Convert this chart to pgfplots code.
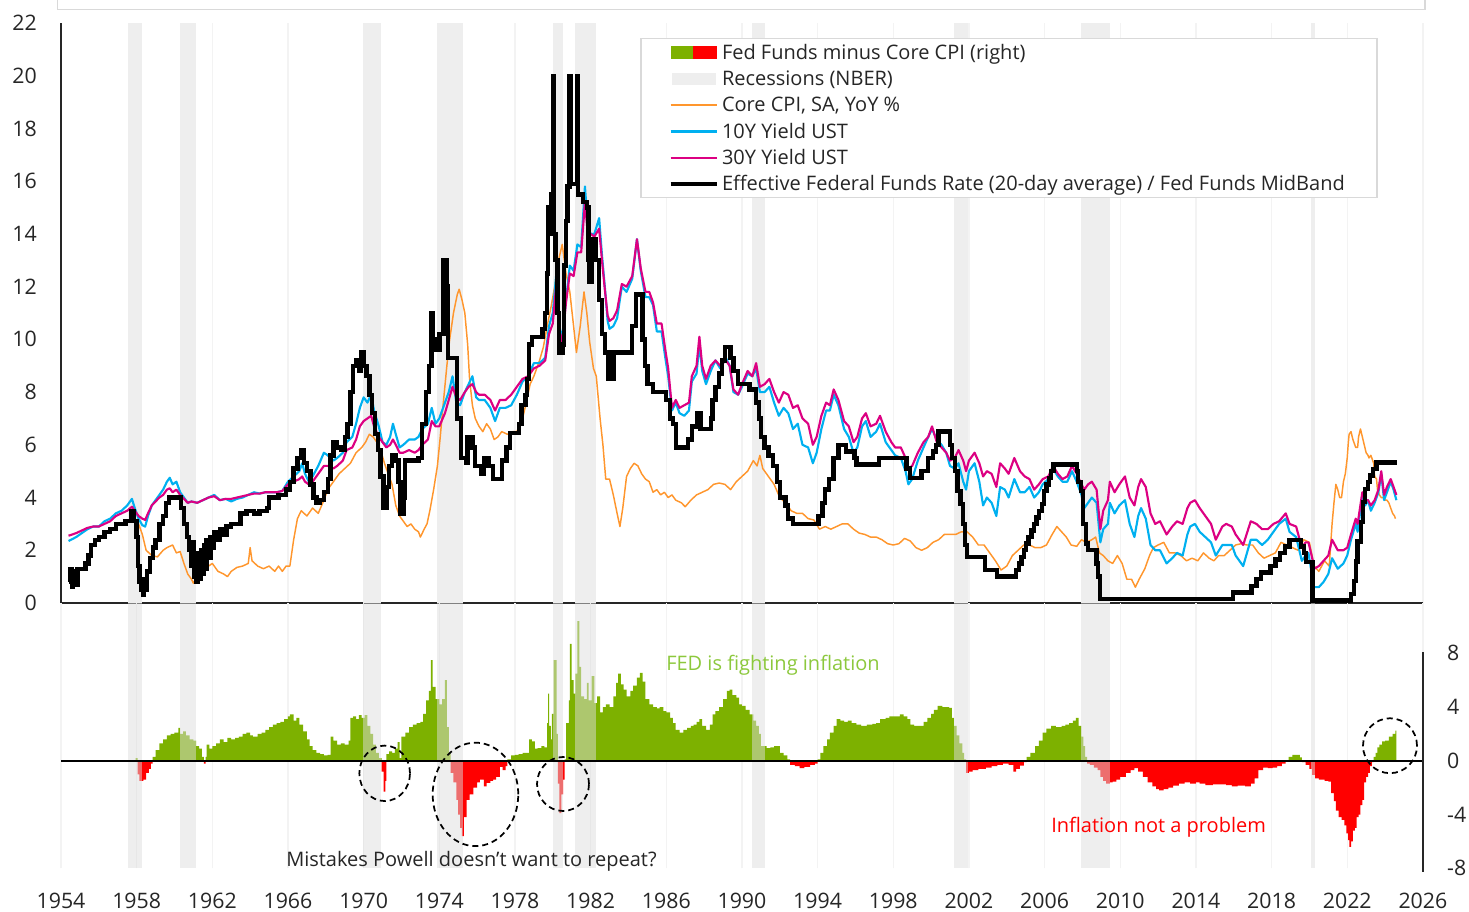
\documentclass[border=0pt]{standalone}
\usepackage{fontspec}
\setmainfont{Open Sans}
\usepackage{pgfplots}
\usepackage{pgfplotstable}
\pgfplotsset{compat=1.18}

\definecolor{ffgreen}{RGB}{125,177,0}
\definecolor{ffred}{RGB}{255,0,0}
\definecolor{recg}{RGB}{238,238,238}
\definecolor{recov}{RGB}{221,221,221}
\definecolor{gridc}{RGB}{243,243,243}
\definecolor{corecol}{RGB}{255,150,45}
\definecolor{tenY}{RGB}{0,176,240}
\definecolor{thirtyY}{RGB}{220,0,130}
\definecolor{txt}{RGB}{38,38,38}
\definecolor{axc}{RGB}{38,38,38}
\definecolor{boxc}{RGB}{217,217,217}
\definecolor{fedtxt}{RGB}{140,200,60}

\newcommand{\tfont}{\fontsize{16pt}{19pt}\selectfont}
\newcommand{\lfont}{\fontsize{15pt}{18pt}\selectfont}

% Effective Fed Funds (20d avg) / MidBand
\pgfplotstableread{
x y
1954.40 0.8
1954.50 1.3
1954.58 0.6
1954.65 1.2
1954.75 0.7
1954.88 1.3
1955.05 1.3
1955.30 1.5
1955.45 1.8
1955.60 2.2
1955.80 2.4
1956.00 2.5
1956.30 2.7
1956.60 2.8
1956.90 3.0
1957.40 3.1
1957.70 3.5
1957.85 3.1
1958.00 2.5
1958.07 1.4
1958.15 0.8
1958.25 0.5
1958.32 0.3
1958.40 0.9
1958.47 0.5
1958.55 1.2
1958.70 1.7
1958.85 2.1
1959.00 2.4
1959.20 3.0
1959.40 3.3
1959.55 3.8
1959.70 4.0
1960.20 4.0
1960.35 3.6
1960.50 3.0
1960.65 2.5
1960.78 2.0
1960.88 1.4
1960.95 2.3
1961.02 1.0
1961.10 1.9
1961.17 0.8
1961.25 1.8
1961.32 0.9
1961.40 2.0
1961.47 1.1
1961.55 2.2
1961.62 1.3
1961.70 2.4
1961.80 1.7
1961.90 2.5
1962.00 2.1
1962.10 2.7
1962.25 2.4
1962.40 2.8
1962.60 2.6
1962.75 2.9
1963.00 3.0
1963.50 3.4
1963.80 3.5
1964.20 3.4
1964.50 3.5
1964.90 3.6
1965.00 4.0
1965.50 4.1
1965.90 4.3
1966.10 4.6
1966.30 5.1
1966.50 5.5
1966.70 5.8
1966.85 5.3
1967.00 5.0
1967.20 4.5
1967.35 4.0
1967.50 3.8
1967.70 3.9
1967.90 4.2
1968.10 4.7
1968.25 5.6
1968.40 6.1
1968.60 5.9
1968.80 5.8
1969.00 6.3
1969.15 6.8
1969.30 8.0
1969.45 9.0
1969.60 9.2
1969.75 8.8
1969.85 9.5
1970.00 9.0
1970.15 8.6
1970.30 7.9
1970.45 7.2
1970.60 6.4
1970.75 5.8
1970.90 4.8
1971.05 3.6
1971.20 4.4
1971.35 5.2
1971.50 5.6
1971.70 5.4
1971.85 4.6
1971.95 3.4
1972.10 4.0
1972.20 5.4
1972.90 5.5
1973.10 6.8
1973.30 8.0
1973.45 9.0
1973.58 11.0
1973.66 10.0
1973.85 9.6
1974.00 10.2
1974.22 13.0
1974.40 12.0
1974.47 9.3
1974.95 7.0
1975.15 5.5
1975.40 5.3
1975.50 6.3
1975.75 5.9
1975.90 5.2
1976.20 4.9
1976.35 5.5
1976.60 5.2
1976.85 4.7
1977.30 5.4
1977.55 5.9
1977.75 6.45
1978.20 6.8
1978.35 7.5
1978.55 7.9
1978.65 8.5
1978.75 9.8
1978.90 10.1
1979.45 10.4
1979.60 11.0
1979.68 12.5
1979.75 15.0
1979.82 14.0
1979.90 15.5
1980.00 20.0
1980.05 14.0
1980.15 13.0
1980.25 11.0
1980.33 9.5
1980.55 9.8
1980.60 12.8
1980.70 14.5
1980.78 15.8
1980.88 20.0
1980.93 15.9
1981.28 20.0
1981.33 15.5
1981.60 15.2
1981.80 15.0
1981.88 13.0
1981.95 12.2
1982.05 13.8
1982.30 13.0
1982.45 11.5
1982.60 10.2
1982.75 9.5
1982.95 8.5
1983.20 9.5
1984.20 10.5
1984.40 11.7
1984.75 10.0
1984.88 9.0
1985.00 8.3
1985.30 8.0
1986.00 7.7
1986.20 7.0
1986.35 6.8
1986.50 5.9
1987.15 6.2
1987.35 6.7
1987.65 7.2
1987.80 6.6
1988.35 7.0
1988.45 7.7
1988.60 8.2
1988.80 8.7
1988.95 9.2
1989.10 9.7
1989.40 9.3
1989.55 8.8
1989.80 8.3
1990.40 8.1
1990.75 7.6
1990.90 7.0
1991.00 6.3
1991.20 5.9
1991.40 5.6
1991.65 5.2
1991.85 4.6
1992.00 4.0
1992.30 3.7
1992.45 3.2
1992.70 3.0
1994.05 3.3
1994.25 3.8
1994.40 4.3
1994.60 4.7
1994.85 5.5
1995.10 6.0
1995.50 5.75
1995.95 5.5
1996.05 5.25
1997.25 5.5
1998.70 5.1
1998.90 4.75
1999.50 5.0
1999.85 5.5
2000.10 5.75
2000.25 6.0
2000.40 6.5
2001.00 6.0
2001.10 5.5
2001.25 5.0
2001.40 4.25
2001.55 3.75
2001.68 3.0
2001.80 2.2
2001.90 1.75
2002.85 1.25
2003.50 1.0
2004.50 1.25
2004.65 1.5
2004.78 1.75
2004.90 2.0
2005.03 2.25
2005.15 2.5
2005.30 2.75
2005.45 3.0
2005.58 3.25
2005.72 3.5
2005.85 3.75
2005.98 4.25
2006.10 4.5
2006.23 4.75
2006.35 5.0
2006.48 5.25
2007.70 5.0
2007.78 4.6
2007.93 4.25
2008.03 3.0
2008.18 2.25
2008.30 2.0
2008.75 1.5
2008.82 1.0
2008.92 0.15
2015.95 0.4
2016.95 0.65
2017.20 0.9
2017.45 1.15
2017.95 1.4
2018.20 1.65
2018.45 1.9
2018.70 2.15
2018.95 2.4
2019.55 2.15
2019.70 1.9
2019.83 1.55
2020.17 0.1
2022.20 0.33
2022.35 0.83
2022.45 1.58
2022.55 2.33
2022.72 3.08
2022.85 3.83
2022.95 4.33
2023.10 4.58
2023.20 4.83
2023.35 5.08
2023.55 5.33
2024.65 5.33
}\effr

% Core CPI YoY
\pgfplotstableread{
x y
1958.05 3.1
1958.30 2.6
1958.50 2.0
1958.80 1.8
1959.10 1.75
1959.40 2.0
1959.60 2.1
1959.90 2.2
1960.10 1.9
1960.30 1.95
1960.50 1.5
1960.70 1.1
1960.90 0.9
1961.00 0.75
1961.20 1.0
1961.40 1.1
1961.60 1.3
1961.80 1.4
1962.00 1.5
1962.30 1.2
1962.60 1.1
1962.80 1.0
1963.00 1.2
1963.30 1.35
1963.60 1.4
1963.90 1.5
1964.00 2.1
1964.10 1.6
1964.40 1.4
1964.70 1.3
1965.00 1.4
1965.30 1.2
1965.50 1.4
1965.70 1.2
1965.90 1.4
1966.10 1.4
1966.30 2.4
1966.50 3.2
1966.70 3.5
1967.00 3.3
1967.30 3.6
1967.60 3.4
1967.90 3.9
1968.10 4.3
1968.40 4.6
1968.70 4.9
1969.00 5.1
1969.30 5.3
1969.60 5.7
1969.90 5.9
1970.10 6.1
1970.30 6.4
1970.50 6.3
1970.70 6.1
1970.90 5.8
1971.10 5.3
1971.30 4.9
1971.50 4.5
1971.70 3.7
1971.90 3.3
1972.10 3.1
1972.30 2.9
1972.50 3.0
1972.70 2.8
1972.90 2.7
1973.00 2.5
1973.20 2.8
1973.35 3.0
1973.50 3.5
1973.70 4.3
1973.90 5.2
1974.05 6.3
1974.20 7.5
1974.40 9.0
1974.55 10.0
1974.75 11.0
1974.95 11.7
1975.05 11.9
1975.20 11.5
1975.35 11.0
1975.50 9.8
1975.60 8.5
1975.75 7.5
1975.90 7.0
1976.10 6.7
1976.30 6.5
1976.50 6.8
1976.70 6.6
1976.90 6.2
1977.10 6.3
1977.30 6.5
1977.60 6.4
1977.90 6.5
1978.10 6.5
1978.40 7.0
1978.60 7.6
1978.80 8.3
1979.00 8.6
1979.30 9.2
1979.50 9.7
1979.70 10.5
1979.90 11.2
1980.10 12.0
1980.30 13.0
1980.50 13.6
1980.70 12.5
1980.90 11.8
1981.10 10.5
1981.25 9.5
1981.45 10.5
1981.65 11.8
1981.80 11.0
1981.95 9.9
1982.15 8.9
1982.30 8.6
1982.50 7.0
1982.65 6.0
1982.80 4.7
1983.00 4.7
1983.20 4.1
1983.40 3.4
1983.55 2.9
1983.70 3.6
1983.90 4.8
1984.10 5.1
1984.30 5.3
1984.50 5.2
1984.70 4.9
1984.90 4.7
1985.10 4.6
1985.30 4.2
1985.50 4.3
1985.70 4.1
1985.90 4.2
1986.10 4.0
1986.30 4.1
1986.50 3.9
1986.80 3.8
1987.00 3.65
1987.30 3.9
1987.60 4.1
1987.90 4.2
1988.20 4.3
1988.50 4.5
1988.80 4.55
1989.10 4.5
1989.40 4.3
1989.70 4.6
1990.00 4.8
1990.30 5.0
1990.60 5.4
1990.80 5.2
1990.95 5.6
1991.10 5.1
1991.40 4.8
1991.70 4.5
1992.00 4.0
1992.30 3.8
1992.60 3.5
1992.90 3.4
1993.20 3.4
1993.50 3.2
1993.80 3.15
1994.10 2.8
1994.40 2.9
1994.70 2.8
1995.00 2.9
1995.30 3.0
1995.60 3.0
1995.90 2.8
1996.20 2.65
1996.50 2.6
1996.80 2.5
1997.10 2.5
1997.40 2.4
1997.70 2.25
1998.00 2.2
1998.30 2.25
1998.60 2.45
1998.90 2.35
1999.20 2.1
1999.50 2.0
1999.80 2.1
2000.10 2.3
2000.40 2.4
2000.70 2.6
2001.00 2.6
2001.30 2.6
2001.60 2.7
2001.90 2.7
2002.20 2.5
2002.50 2.2
2002.80 2.2
2003.10 1.9
2003.40 1.6
2003.70 1.25
2004.00 1.4
2004.30 1.8
2004.60 2.0
2004.90 2.2
2005.20 2.2
2005.50 2.1
2005.80 2.1
2006.10 2.2
2006.40 2.6
2006.65 2.9
2006.90 2.7
2007.15 2.5
2007.40 2.2
2007.70 2.15
2007.95 2.4
2008.20 2.3
2008.50 2.4
2008.70 2.5
2008.90 1.9
2009.10 1.8
2009.35 1.6
2009.60 1.5
2009.85 1.8
2010.10 1.5
2010.35 0.9
2010.60 0.9
2010.80 0.6
2011.00 0.9
2011.30 1.3
2011.55 1.8
2011.75 2.1
2012.00 2.2
2012.30 2.3
2012.60 1.9
2012.90 1.9
2013.20 1.8
2013.50 1.6
2013.80 1.7
2014.10 1.6
2014.40 1.9
2014.70 1.7
2014.95 1.6
2015.20 1.8
2015.50 1.8
2015.80 2.0
2016.10 2.2
2016.40 2.25
2016.70 2.2
2017.00 2.2
2017.30 1.9
2017.60 1.7
2017.90 1.8
2018.20 1.9
2018.50 2.3
2018.80 2.2
2019.10 2.1
2019.40 2.0
2019.70 2.4
2020.00 2.3
2020.25 1.4
2020.50 1.2
2020.80 1.6
2021.05 1.4
2021.20 3.0
2021.30 3.8
2021.40 4.5
2021.50 4.3
2021.60 4.0
2021.70 4.0
2021.80 4.6
2021.90 4.9
2022.00 5.5
2022.05 6.0
2022.10 6.4
2022.20 6.5
2022.30 6.2
2022.40 6.0
2022.45 5.9
2022.55 5.9
2022.60 6.3
2022.70 6.6
2022.80 6.3
2022.90 6.0
2023.00 5.7
2023.10 5.6
2023.15 5.5
2023.25 5.6
2023.30 5.5
2023.40 5.3
2023.45 4.8
2023.55 4.7
2023.60 4.3
2023.70 4.1
2023.80 4.0
2023.90 4.0
2024.00 3.9
2024.10 3.9
2024.20 3.8
2024.30 3.6
2024.40 3.4
2024.50 3.3
2024.55 3.2
}\core

% 10Y and 30Y yields
\pgfplotstableread{
x ten thirty
1954.40 2.35 2.55
1954.80 2.5 2.65
1955.10 2.65 2.75
1955.40 2.8 2.85
1955.70 2.9 2.9
1956.00 2.9 2.9
1956.30 3.1 3.0
1956.60 3.2 3.1
1956.90 3.4 3.3
1957.20 3.5 3.4
1957.50 3.7 3.5
1957.75 3.95 3.65
1957.90 3.6 3.5
1958.10 3.2 3.3
1958.30 2.95 3.2
1958.45 2.9 3.15
1958.60 3.3 3.4
1958.80 3.7 3.7
1959.00 3.9 3.85
1959.20 4.1 4.0
1959.40 4.3 4.1
1959.60 4.6 4.3
1959.75 4.75 4.35
1959.90 4.5 4.2
1960.10 4.6 4.3
1960.30 4.2 4.1
1960.50 4.0 3.95
1960.70 3.8 3.8
1960.90 3.85 3.85
1961.20 3.8 3.8
1961.50 3.9 3.9
1961.80 4.0 4.0
1962.10 4.1 4.05
1962.40 3.9 3.9
1962.70 3.95 3.95
1963.00 3.85 3.95
1963.30 3.95 4.0
1963.60 4.0 4.05
1963.90 4.1 4.1
1964.20 4.2 4.15
1964.50 4.15 4.15
1964.80 4.2 4.2
1965.10 4.2 4.2
1965.40 4.2 4.2
1965.70 4.25 4.25
1966.00 4.6 4.5
1966.30 4.8 4.6
1966.60 5.0 4.7
1966.75 5.3 4.8
1966.90 4.9 4.6
1967.10 4.6 4.5
1967.30 4.8 4.6
1967.60 5.2 4.9
1967.90 5.7 5.2
1968.10 5.6 5.2
1968.40 5.4 5.1
1968.60 5.5 5.2
1968.90 5.7 5.4
1969.10 6.1 5.8
1969.40 6.3 5.9
1969.60 6.8 6.2
1969.80 7.4 6.7
1970.00 7.8 6.9
1970.20 7.6 7.0
1970.40 7.9 7.1
1970.55 7.3 6.7
1970.80 6.7 6.3
1971.00 6.1 6.1
1971.20 6.0 5.9
1971.40 6.3 6.0
1971.55 6.8 6.2
1971.70 6.4 6.0
1971.90 5.9 5.7
1972.10 6.0 5.7
1972.40 6.2 5.8
1972.70 6.2 5.7
1972.90 6.3 5.8
1973.10 6.6 6.0
1973.40 6.8 6.2
1973.60 7.4 6.9
1973.80 6.8 6.7
1974.00 7.0 6.7
1974.30 7.6 7.2
1974.50 8.0 7.7
1974.70 8.6 8.2
1974.90 7.6 7.8
1975.10 7.5 7.7
1975.35 8.0 8.0
1975.55 8.3 8.2
1975.75 8.6 8.3
1975.95 7.8 8.0
1976.10 7.7 7.9
1976.40 7.7 7.9
1976.70 7.4 7.7
1976.95 6.9 7.3
1977.20 7.4 7.7
1977.50 7.4 7.7
1977.80 7.5 7.9
1978.10 7.9 8.2
1978.40 8.4 8.5
1978.70 8.6 8.6
1979.00 9.1 8.9
1979.30 9.1 9.0
1979.60 9.3 9.2
1979.80 10.5 10.2
1980.00 11.0 10.6
1980.20 12.6 12.2
1980.35 10.5 10.3
1980.50 10.0 9.9
1980.70 11.5 11.4
1980.90 12.8 12.5
1981.10 12.6 12.4
1981.30 13.6 13.3
1981.50 13.5 13.3
1981.70 15.8 15.2
1981.85 14.3 14.0
1982.00 14.0 14.0
1982.20 14.0 13.9
1982.45 14.6 14.2
1982.60 13.2 13.0
1982.75 12.0 11.9
1982.90 10.7 10.9
1983.00 10.4 10.7
1983.20 10.5 10.8
1983.40 10.8 11.1
1983.65 12.0 12.1
1983.90 11.8 12.0
1984.20 12.3 12.4
1984.45 13.8 13.8
1984.65 12.6 12.7
1984.90 11.6 11.8
1985.10 11.6 11.8
1985.30 11.3 11.4
1985.50 10.3 10.6
1985.75 10.3 10.6
1985.95 9.3 9.6
1986.10 8.6 8.9
1986.30 7.3 7.4
1986.50 7.6 7.7
1986.70 7.2 7.4
1986.95 7.1 7.5
1987.20 7.3 7.6
1987.35 8.4 8.6
1987.60 8.7 9.0
1987.75 9.8 10.1
1987.90 8.8 9.0
1988.10 8.3 8.5
1988.35 8.8 9.0
1988.60 9.2 9.2
1988.85 8.9 9.0
1989.15 9.3 9.2
1989.35 9.0 9.0
1989.55 8.0 8.1
1989.80 7.9 7.9
1990.00 8.2 8.3
1990.30 8.7 8.8
1990.55 8.6 8.6
1990.75 8.9 9.1
1990.95 8.0 8.2
1991.20 8.0 8.3
1991.45 8.2 8.5
1991.70 7.6 8.0
1991.95 7.1 7.6
1992.20 7.4 8.0
1992.45 7.2 7.9
1992.70 6.6 7.4
1992.95 6.8 7.5
1993.20 6.0 7.0
1993.50 5.9 6.8
1993.75 5.3 6.0
1993.95 5.7 6.3
1994.20 6.6 7.1
1994.45 7.3 7.6
1994.65 7.3 7.5
1994.85 7.9 8.1
1995.10 7.5 7.7
1995.40 6.6 6.9
1995.65 6.3 6.7
1995.90 5.7 6.1
1996.10 5.9 6.3
1996.35 6.7 7.0
1996.55 6.9 7.2
1996.80 6.3 6.7
1997.10 6.5 6.8
1997.30 6.8 7.1
1997.60 6.1 6.5
1997.90 5.8 6.1
1998.10 5.6 5.9
1998.40 5.5 5.9
1998.65 5.0 5.5
1998.80 4.5 5.1
1999.00 4.7 5.2
1999.30 5.4 5.7
1999.60 5.9 6.1
1999.85 6.3 6.3
2000.05 6.6 6.7
2000.30 6.2 6.1
2000.55 6.0 5.9
2000.80 5.7 5.7
2001.00 5.2 5.4
2001.25 5.1 5.5
2001.45 5.3 5.8
2001.70 4.6 5.4
2001.85 4.3 5.0
2002.00 5.0 5.4
2002.30 5.3 5.7
2002.55 4.6 5.3
2002.75 3.7 4.8
2002.95 4.0 5.0
2003.20 3.8 4.9
2003.45 3.3 4.4
2003.65 4.4 5.3
2003.90 4.3 5.1
2004.10 4.0 4.9
2004.40 4.7 5.5
2004.70 4.2 5.0
2004.95 4.2 4.8
2005.20 4.4 4.7
2005.45 4.0 4.3
2005.70 4.2 4.5
2005.90 4.5 4.7
2006.20 4.7 4.8
2006.45 5.1 5.2
2006.70 4.8 4.9
2006.95 4.6 4.7
2007.20 4.6 4.8
2007.45 5.0 5.2
2007.70 4.6 4.9
2007.95 4.1 4.5
2008.10 3.6 4.3
2008.30 3.8 4.5
2008.50 4.0 4.6
2008.75 3.8 4.3
2008.95 2.3 2.8
2009.10 2.8 3.5
2009.35 3.0 3.9
2009.45 3.8 4.6
2009.70 3.4 4.2
2009.95 3.7 4.5
2010.25 3.9 4.8
2010.50 3.0 4.0
2010.75 2.5 3.7
2010.95 3.3 4.4
2011.10 3.6 4.7
2011.35 3.2 4.4
2011.60 2.2 3.4
2011.85 2.0 3.0
2012.10 2.0 3.1
2012.45 1.5 2.6
2012.75 1.7 2.9
2013.00 1.9 3.1
2013.30 1.8 3.0
2013.55 2.6 3.6
2013.70 2.9 3.8
2013.95 3.0 3.9
2014.20 2.7 3.6
2014.50 2.5 3.3
2014.80 2.3 3.0
2015.05 1.8 2.4
2015.40 2.2 2.9
2015.60 2.2 3.0
2015.90 2.2 2.9
2016.10 1.8 2.6
2016.50 1.4 2.2
2016.90 2.4 3.1
2017.20 2.4 3.0
2017.50 2.2 2.8
2017.80 2.4 2.8
2018.10 2.7 3.0
2018.40 3.0 3.1
2018.75 3.2 3.4
2018.95 2.7 3.0
2019.30 2.5 2.9
2019.60 1.6 2.1
2019.80 1.8 2.3
2019.95 1.9 2.3
2020.15 1.0 1.7
2020.25 0.6 1.3
2020.50 0.6 1.4
2020.75 0.8 1.6
2021.00 1.1 1.8
2021.20 1.7 2.4
2021.50 1.3 2.0
2021.80 1.5 2.0
2022.00 1.8 2.1
2022.20 2.4 2.6
2022.45 3.0 3.2
2022.55 2.7 3.0
2022.80 4.1 4.2
2022.95 3.7 3.9
2023.10 3.9 3.9
2023.25 3.5 3.7
2023.45 3.8 3.9
2023.65 4.2 4.3
2023.80 4.9 5.0
2023.95 3.9 4.1
2024.10 4.2 4.4
2024.30 4.6 4.7
2024.45 4.3 4.4
2024.60 3.9 4.1
}\yields

% Fed Funds minus Core CPI
\pgfplotstableread{
x y
1957.95 0.2
1958.05 -1.0
1958.15 -1.5
1958.35 -1.4
1958.50 -0.9
1958.65 -0.6
1958.75 -0.2
1958.85 0.3
1959.00 0.8
1959.20 1.3
1959.40 1.6
1959.60 1.9
1959.80 2.0
1960.00 2.1
1960.20 2.45
1960.30 2.0
1960.45 2.2
1960.60 1.9
1960.80 1.6
1961.00 1.5
1961.15 1.1
1961.30 0.9
1961.45 0.3
1961.55 -0.2
1961.65 0.3
1961.70 1.2
1961.85 0.9
1962.00 1.1
1962.20 1.3
1962.40 1.6
1962.60 1.4
1962.80 1.7
1963.00 1.6
1963.20 1.7
1963.40 1.8
1963.60 2.0
1963.80 2.1
1964.00 1.9
1964.15 1.8
1964.40 2.0
1964.60 2.1
1964.80 2.3
1965.00 2.5
1965.20 2.7
1965.40 2.8
1965.60 2.9
1965.80 3.1
1966.00 3.3
1966.10 3.45
1966.30 3.0
1966.45 3.2
1966.60 2.7
1966.80 2.2
1967.00 1.6
1967.15 1.1
1967.30 0.8
1967.50 0.6
1967.70 0.5
1967.90 0.4
1968.10 0.45
1968.25 1.8
1968.40 1.5
1968.60 1.2
1968.80 1.3
1969.00 1.2
1969.20 1.5
1969.30 3.2
1969.45 3.3
1969.60 3.1
1969.75 3.4
1969.90 3.2
1970.05 3.4
1970.20 2.6
1970.35 2.0
1970.50 1.2
1970.65 0.6
1970.80 0.2
1970.95 -0.8
1971.05 -2.3
1971.15 -1.5
1971.20 0.5
1971.35 0.7
1971.50 0.6
1971.65 0.9
1971.80 1.4
1971.90 0.2
1972.00 1.8
1972.20 2.1
1972.40 2.5
1972.60 2.7
1972.80 2.8
1973.00 2.9
1973.15 3.5
1973.30 4.5
1973.45 5.2
1973.55 7.5
1973.65 5.5
1973.80 4.6
1974.00 4.2
1974.15 4.6
1974.30 6.0
1974.40 2.5
1974.50 0.6
1974.60 -0.9
1974.75 -1.6
1974.90 -2.9
1975.00 -4.0
1975.10 -5.0
1975.20 -5.6
1975.30 -4.2
1975.45 -2.9
1975.60 -2.5
1975.80 -2.0
1976.00 -1.6
1976.15 -1.4
1976.35 -1.9
1976.50 -1.65
1976.70 -1.5
1976.85 -1.4
1977.00 -1.2
1977.20 -0.45
1977.35 -0.7
1977.50 -0.4
1977.60 0.1
1977.80 0.4
1978.00 0.45
1978.20 0.5
1978.40 0.6
1978.60 0.6
1978.75 1.6
1978.90 1.45
1979.05 0.9
1979.20 0.95
1979.40 1.1
1979.55 1.0
1979.70 2.8
1979.75 5.0
1979.80 2.6
1979.90 1.6
1979.95 3.5
1980.05 7.5
1980.20 2.0
1980.27 -1.7
1980.35 -3.9
1980.45 -2.5
1980.55 -1.4
1980.62 0.1
1980.70 2.8
1980.85 4.5
1980.90 8.7
1981.00 6.0
1981.10 5.0
1981.20 6.5
1981.30 10.4
1981.40 7.0
1981.50 4.8
1981.65 4.6
1981.80 5.8
1981.90 4.5
1982.05 6.3
1982.20 4.3
1982.35 4.8
1982.50 3.6
1982.65 4.0
1982.80 4.2
1983.00 4.0
1983.20 4.8
1983.35 5.8
1983.45 6.5
1983.60 5.7
1983.75 5.3
1983.90 4.8
1984.10 5.2
1984.25 5.6
1984.45 6.2
1984.60 6.55
1984.75 5.9
1984.90 4.6
1985.10 4.2
1985.30 4.0
1985.50 3.9
1985.65 4.0
1985.85 3.7
1986.00 3.6
1986.20 3.2
1986.35 2.8
1986.50 2.3
1986.70 2.1
1986.90 2.3
1987.10 2.45
1987.30 2.6
1987.45 2.7
1987.60 2.9
1987.75 3.1
1987.90 2.6
1988.10 2.3
1988.30 2.7
1988.45 3.45
1988.60 3.7
1988.80 4.0
1989.00 4.6
1989.20 5.2
1989.35 5.3
1989.50 4.9
1989.70 4.7
1989.85 4.2
1990.00 4.1
1990.20 3.8
1990.40 3.45
1990.60 3.0
1990.75 2.6
1990.90 2.0
1991.00 1.1
1991.20 1.1
1991.30 0.95
1991.50 1.0
1991.70 1.1
1991.85 1.1
1992.00 0.6
1992.20 0.4
1992.40 0.1
1992.55 -0.3
1992.80 -0.4
1993.05 -0.55
1993.30 -0.45
1993.60 -0.3
1993.85 -0.2
1994.00 0.1
1994.15 0.6
1994.30 1.1
1994.50 1.6
1994.65 2.1
1994.85 2.6
1995.00 3.1
1995.20 3.0
1995.40 2.9
1995.60 3.0
1995.80 2.8
1996.05 2.7
1996.30 2.6
1996.60 2.7
1996.90 2.75
1997.10 2.8
1997.30 3.1
1997.60 3.2
1997.80 3.3
1998.00 3.3
1998.35 3.45
1998.55 3.3
1998.75 3.1
1998.90 2.7
1999.10 2.6
1999.40 2.6
1999.60 2.9
1999.80 3.2
2000.00 3.5
2000.15 3.8
2000.35 4.1
2000.60 4.0
2000.80 4.0
2000.95 3.95
2001.10 3.2
2001.20 2.6
2001.35 1.9
2001.50 1.3
2001.65 0.6
2001.75 0.1
2001.85 -0.9
2002.00 -0.8
2002.20 -0.7
2002.50 -0.6
2002.75 -0.6
2002.90 -0.5
2003.20 -0.4
2003.50 -0.3
2003.80 -0.2
2004.10 -0.3
2004.35 -0.8
2004.50 -0.6
2004.70 -0.35
2004.90 -0.1
2005.05 0.3
2005.25 0.6
2005.50 1.1
2005.70 1.5
2005.90 2.1
2006.10 2.4
2006.35 2.6
2006.60 2.5
2006.90 2.6
2007.10 2.7
2007.30 2.8
2007.50 3.0
2007.65 3.2
2007.80 2.6
2007.95 1.8
2008.05 1.1
2008.15 0.3
2008.25 -0.2
2008.40 -0.3
2008.60 -0.5
2008.80 -0.7
2008.95 -1.2
2009.10 -1.5
2009.25 -1.7
2009.45 -1.6
2009.60 -1.55
2009.80 -1.4
2010.00 -1.2
2010.30 -0.9
2010.55 -0.7
2010.75 -0.55
2010.95 -0.8
2011.20 -1.2
2011.45 -1.6
2011.70 -1.9
2011.90 -2.1
2012.05 -2.2
2012.30 -2.1
2012.55 -2.0
2012.80 -1.85
2013.10 -1.7
2013.40 -1.6
2013.70 -1.7
2014.00 -1.6
2014.20 -1.7
2014.50 -1.8
2014.90 -1.75
2015.20 -1.75
2015.60 -1.8
2015.90 -1.9
2016.20 -1.85
2016.60 -1.9
2016.90 -1.7
2017.10 -1.3
2017.30 -0.7
2017.55 -0.5
2017.80 -0.55
2018.05 -0.5
2018.30 -0.4
2018.55 -0.2
2018.75 0.05
2018.90 0.3
2019.10 0.45
2019.30 0.45
2019.50 0.25
2019.60 -0.1
2019.80 -0.3
2020.00 -0.6
2020.15 -1.05
2020.30 -1.3
2020.50 -1.4
2020.80 -1.5
2021.00 -1.55
2021.15 -2.4
2021.30 -3.0
2021.40 -3.7
2021.55 -4.2
2021.70 -4.4
2021.85 -4.8
2021.95 -5.4
2022.05 -5.9
2022.12 -6.4
2022.20 -6.0
2022.30 -5.2
2022.40 -5.0
2022.50 -4.2
2022.60 -4.0
2022.70 -3.3
2022.80 -2.9
2022.90 -1.6
2023.00 -1.2
2023.10 -0.9
2023.20 -0.4
2023.30 -0.1
2023.40 0.3
2023.50 0.6
2023.60 1.0
2023.70 1.2
2023.85 1.45
2024.00 1.5
2024.20 1.8
2024.40 2.0
2024.55 2.25
2024.60 2.25
}\spread

\newcommand{\bandtop}[2]{\addplot[fill=recg, draw=none, forget plot] coordinates {(#1,0) (#1,22) (#2,22) (#2,0)} -- cycle;}
\newcommand{\bandbot}[2]{\addplot[fill=recov, fill opacity=0.5, draw=none, forget plot] coordinates {(#1,-8) (#1,11.75) (#2,11.75) (#2,-8)} -- cycle;}

\begin{document}
\begin{tikzpicture}
\useasboundingbox (0,0) rectangle (1101.75pt,684pt);
\draw[boxc, line width=1.1pt] (43.3pt,700pt) -- (43.3pt,677pt) -- (1068.75pt,677pt) -- (1068.75pt,700pt);

% ---------------- top panel ----------------
\begin{axis}[
  scale only axis, width=1021.5pt, height=435pt,
  at={(45.75pt,231.75pt)}, anchor=south west,
  xmin=1954, xmax=2026, ymin=0, ymax=22,
  axis x line*=bottom, axis y line*=left,
  axis line style={draw=axc, line width=1.5pt},
  xtick={1954,1958,...,2026}, xticklabels={},
  ytick={0,2,...,22},
  major tick length=0pt,
  xmajorgrids, major grid style={draw=gridc, line width=0.9pt},
  yticklabel style={font=\tfont, text=txt, anchor=east, inner sep=0pt, xshift=-18pt},
  /pgf/number format/assume math mode=true,
]
\bandtop{1957.55}{1958.30}
\bandtop{1960.30}{1961.15}
\bandtop{1969.94}{1970.90}
\bandtop{1973.89}{1975.23}
\bandtop{1980.02}{1980.55}
\bandtop{1981.18}{1982.28}
\bandtop{1990.54}{1991.21}
\bandtop{2001.21}{2001.95}
\bandtop{2007.95}{2009.48}
\bandtop{2020.07}{2020.32}
\addplot[corecol, line width=1.1pt, line join=round] table[x=x, y=y] {\core};
\addplot[tenY, line width=1.6pt, line join=round] table[x=x, y=ten] {\yields};
\addplot[thirtyY, line width=1.6pt, line join=round] table[x=x, y=thirty] {\yields};
\addplot[black, line width=3.3pt, const plot] table[x=x, y=y] {\effr};
\end{axis}

% ---------------- bottom panel ----------------
\begin{axis}[
  scale only axis, width=1021.5pt, height=198.97pt,
  at={(45.75pt,32.78pt)}, anchor=south west,
  xmin=1954, xmax=2026, ymin=-8, ymax=11.75,
  axis x line*=bottom, axis y line*=right,
  axis line style={draw=none},
  xtick={1954,1958,...,2026}, ytick={-8,-4,0,4,8},
  major tick length=0pt,
  xmajorgrids, major grid style={draw=gridc, line width=0.9pt},
  xticklabel style={font=\tfont, text=txt, anchor=center, inner sep=0pt, yshift=-24.5pt},
  yticklabel style={font=\tfont, text=txt, anchor=west, inner sep=0pt, xshift=18pt},
  /pgf/number format/1000 sep={},
  /pgf/number format/assume math mode=true,
  clip=false,
]
\addplot[const plot, fill=ffgreen, draw=none, y filter/.expression={max(y,0)}] table[x=x, y=y] {\spread} \closedcycle;
\addplot[const plot, fill=ffred, draw=none, y filter/.expression={min(y,0)}] table[x=x, y=y] {\spread} \closedcycle;
\bandbot{1957.55}{1958.30}
\bandbot{1960.30}{1961.15}
\bandbot{1969.94}{1970.90}
\bandbot{1973.89}{1975.23}
\bandbot{1980.02}{1980.55}
\bandbot{1981.18}{1982.28}
\bandbot{1990.54}{1991.21}
\bandbot{2001.21}{2001.95}
\bandbot{2007.95}{2009.48}
\bandbot{2020.07}{2020.32}
\draw[black, line width=1.5pt] (axis cs:1954,0) -- (axis cs:2026,0);
\draw[axc, line width=1.5pt] (axis cs:2026,-8.25) -- (axis cs:2026,8.1);
\end{axis}

% ---------------- legend ----------------
\draw[boxc, line width=0.8pt, fill=white] (480.75pt,536pt) rectangle (1032.75pt,655.3pt);
\fill[ffgreen] (503pt,639.5pt) rectangle (520pt,649.7pt);
\fill[ffred] (520pt,639.5pt) rectangle (538pt,649.7pt);
\fill[recg] (503.8pt,620.25pt) rectangle (537pt,629.5pt);
\draw[corecol, line width=1.2pt] (503pt,605.25pt) -- (537.5pt,605.25pt);
\draw[tenY, line width=1.7pt] (503pt,585.4pt) -- (537.5pt,585.4pt);
\draw[thirtyY, line width=1.7pt] (503pt,565.7pt) -- (537.5pt,565.7pt);
\draw[black, line width=3.2pt] (503pt,546pt) -- (537.5pt,546pt);
\begin{scope}[every node/.style={anchor=base west, inner sep=0pt, font=\lfont, text=txt}]
\node at (541.3pt,639.5pt) {Fed Funds minus Core CPI (right)};
\node at (541.3pt,619.8pt) {Recessions (NBER)};
\node at (541.3pt,600.15pt) {Core CPI, SA, YoY \%};
\node at (541.3pt,580.4pt) {10Y Yield UST};
\node at (541.3pt,560.8pt) {30Y Yield UST};
\node at (541.3pt,541.05pt) {Effective Federal Funds Rate (20-day average) / Fed Funds MidBand};
\end{scope}

% ---------------- annotations ----------------
\node[anchor=base west, inner sep=0pt, font=\lfont, text=fedtxt] at (499.5pt,181pt) {FED is fighting inflation};
\node[anchor=base west, inner sep=0pt, font=\lfont, text=ffred] at (788.25pt,59.8pt) {Inflation not a problem};
\node[anchor=base west, inner sep=0pt, font=\lfont, text=txt] at (214.5pt,34pt) {Mistakes Powell doesn't want to repeat?};
\begin{scope}[black, line width=1.3pt, dash pattern=on 4.5pt off 3pt]
\draw (288.5pt,104pt) ellipse [x radius=19pt, y radius=20.8pt];
\draw (356.6pt,88.2pt) ellipse [x radius=32.1pt, y radius=38.8pt];
\draw (422.25pt,96pt) ellipse [x radius=19.5pt, y radius=20.25pt];
\draw (1042.5pt,124.7pt) ellipse [x radius=20.25pt, y radius=20.6pt];
\end{scope}
\end{tikzpicture}
\end{document}
